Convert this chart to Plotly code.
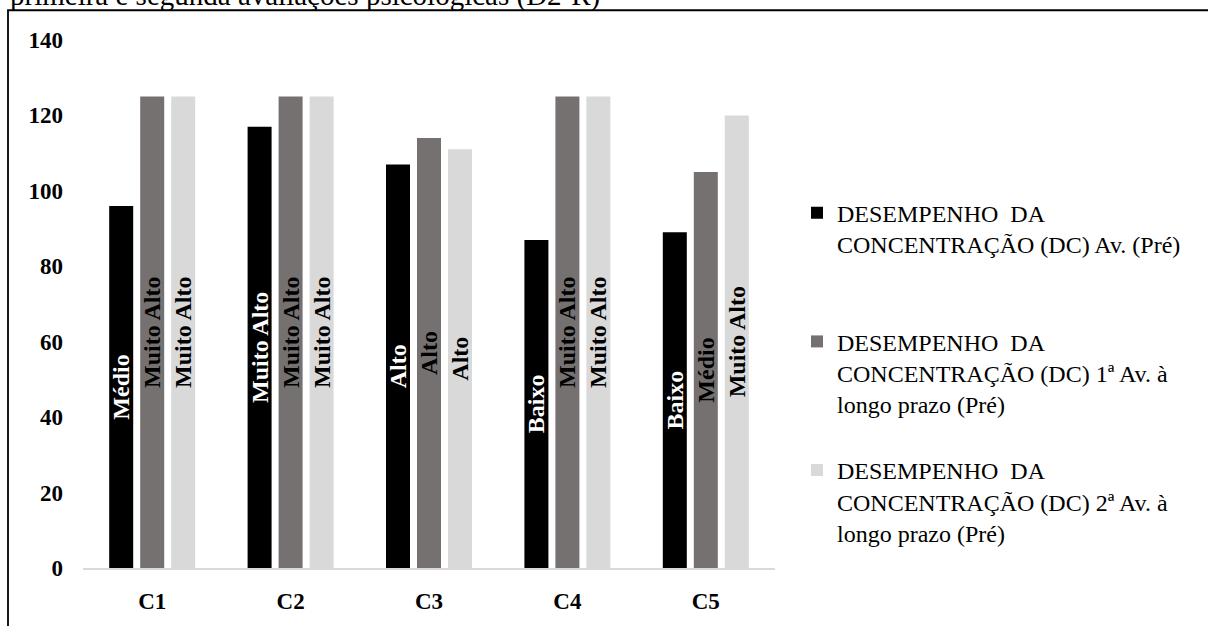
import plotly.graph_objects as go

# Participants and the three concentration assessments (D2-R)
categories = ["C1", "C2", "C3", "C4", "C5"]

series_names = [
    "DESEMPENHO\u00a0 DA<br>CONCENTRAÇÃO (DC) Av. (Pré)<br>\u00a0",
    "DESEMPENHO\u00a0 DA<br>CONCENTRAÇÃO (DC) 1ª Av. à<br>longo prazo (Pré)",
    "DESEMPENHO\u00a0 DA<br>CONCENTRAÇÃO (DC) 2ª Av. à<br>longo prazo (Pré)",
]

dc_pre = [96, 117, 107, 87, 89]
dc_first_long = [125, 125, 114, 125, 105]
dc_second_long = [125, 125, 111, 125, 120]

class_pre = ["Médio", "Muito Alto", "Alto", "Baixo", "Baixo"]
class_first_long = ["Muito Alto", "Muito Alto", "Alto", "Muito Alto", "Médio"]
class_second_long = ["Muito Alto", "Muito Alto", "Alto", "Muito Alto", "Muito Alto"]

y_ticks = [0, 20, 40, 60, 80, 100, 120, 140]

title_text = "primeira e segunda avaliações psicológicas (D2-R)"

bar_colors = ["#000000", "#767171", "#D9D9D9"]
label_colors = ["#FFFFFF", "#000000", "#000000"]
values = [dc_pre, dc_first_long, dc_second_long]
labels = [class_pre, class_first_long, class_second_long]

SERIF = "Liberation Serif"

fig = go.Figure()
for i in range(3):
    fig.add_trace(go.Bar(
        x=categories,
        y=values[i],
        name=series_names[i],
        legendgroup=f"g{i}",
        text=labels[i],
        textposition="inside",
        insidetextanchor="middle",
        textangle=-90,
        constraintext="none",
        textfont=dict(family=SERIF, size=24, color=label_colors[i], weight="bold"),
        marker=dict(color=bar_colors[i], line=dict(width=0)),
        hoverinfo="skip",
    ))

W, H = 1208, 626
L, R, T, B = 83, 433, 40, 53.5
pw, ph = W - L - R, H - T - B


def px_x(x):
    return (x - L) / pw


def px_y(y):
    return (H - B - y) / ph


fig.update_layout(
    width=W,
    height=H,
    margin=dict(l=L, r=R, t=T, b=B, pad=0),
    paper_bgcolor="white",
    plot_bgcolor="white",
    barmode="group",
    bargap=0.328,
    bargroupgap=0.226,
    font=dict(family=SERIF, color="#000000"),
    showlegend=True,
    legend=dict(
        x=px_x(797),
        y=px_y(192),
        xanchor="left",
        yanchor="top",
        valign="top",
        traceorder="grouped",
        tracegroupgap=32,
        font=dict(family=SERIF, size=24, color="#000000"),
        bgcolor="rgba(0,0,0,0)",
    ),
    xaxis=dict(
        showgrid=False,
        showline=True,
        linecolor="#D9D9D9",
        linewidth=1.5,
        ticks="",
        tickfont=dict(family=SERIF, size=23, color="#000000", weight="bold"),
        ticklabelstandoff=12,
        fixedrange=True,
    ),
    yaxis=dict(
        range=[0, 140],
        tickvals=y_ticks,
        showgrid=False,
        zeroline=False,
        showline=False,
        ticks="",
        tickfont=dict(family=SERIF, size=23, color="#000000", weight="bold"),
        ticklabelstandoff=19,
        fixedrange=True,
    ),
    shapes=[
        dict(
            type="rect",
            xref="paper",
            yref="paper",
            x0=px_x(8),
            x1=px_x(1260),
            y0=px_y(700),
            y1=px_y(10),
            line=dict(color="#000000", width=1.8),
            fillcolor="rgba(0,0,0,0)",
            layer="above",
        )
    ],
    annotations=[
        dict(
            text=title_text,
            xref="paper",
            yref="paper",
            x=px_x(8),
            y=px_y(14),
            xanchor="left",
            yanchor="bottom",
            showarrow=False,
            font=dict(family=SERIF, size=29, color="#000000"),
        )
    ],
)

fig.write_html("out.html")
